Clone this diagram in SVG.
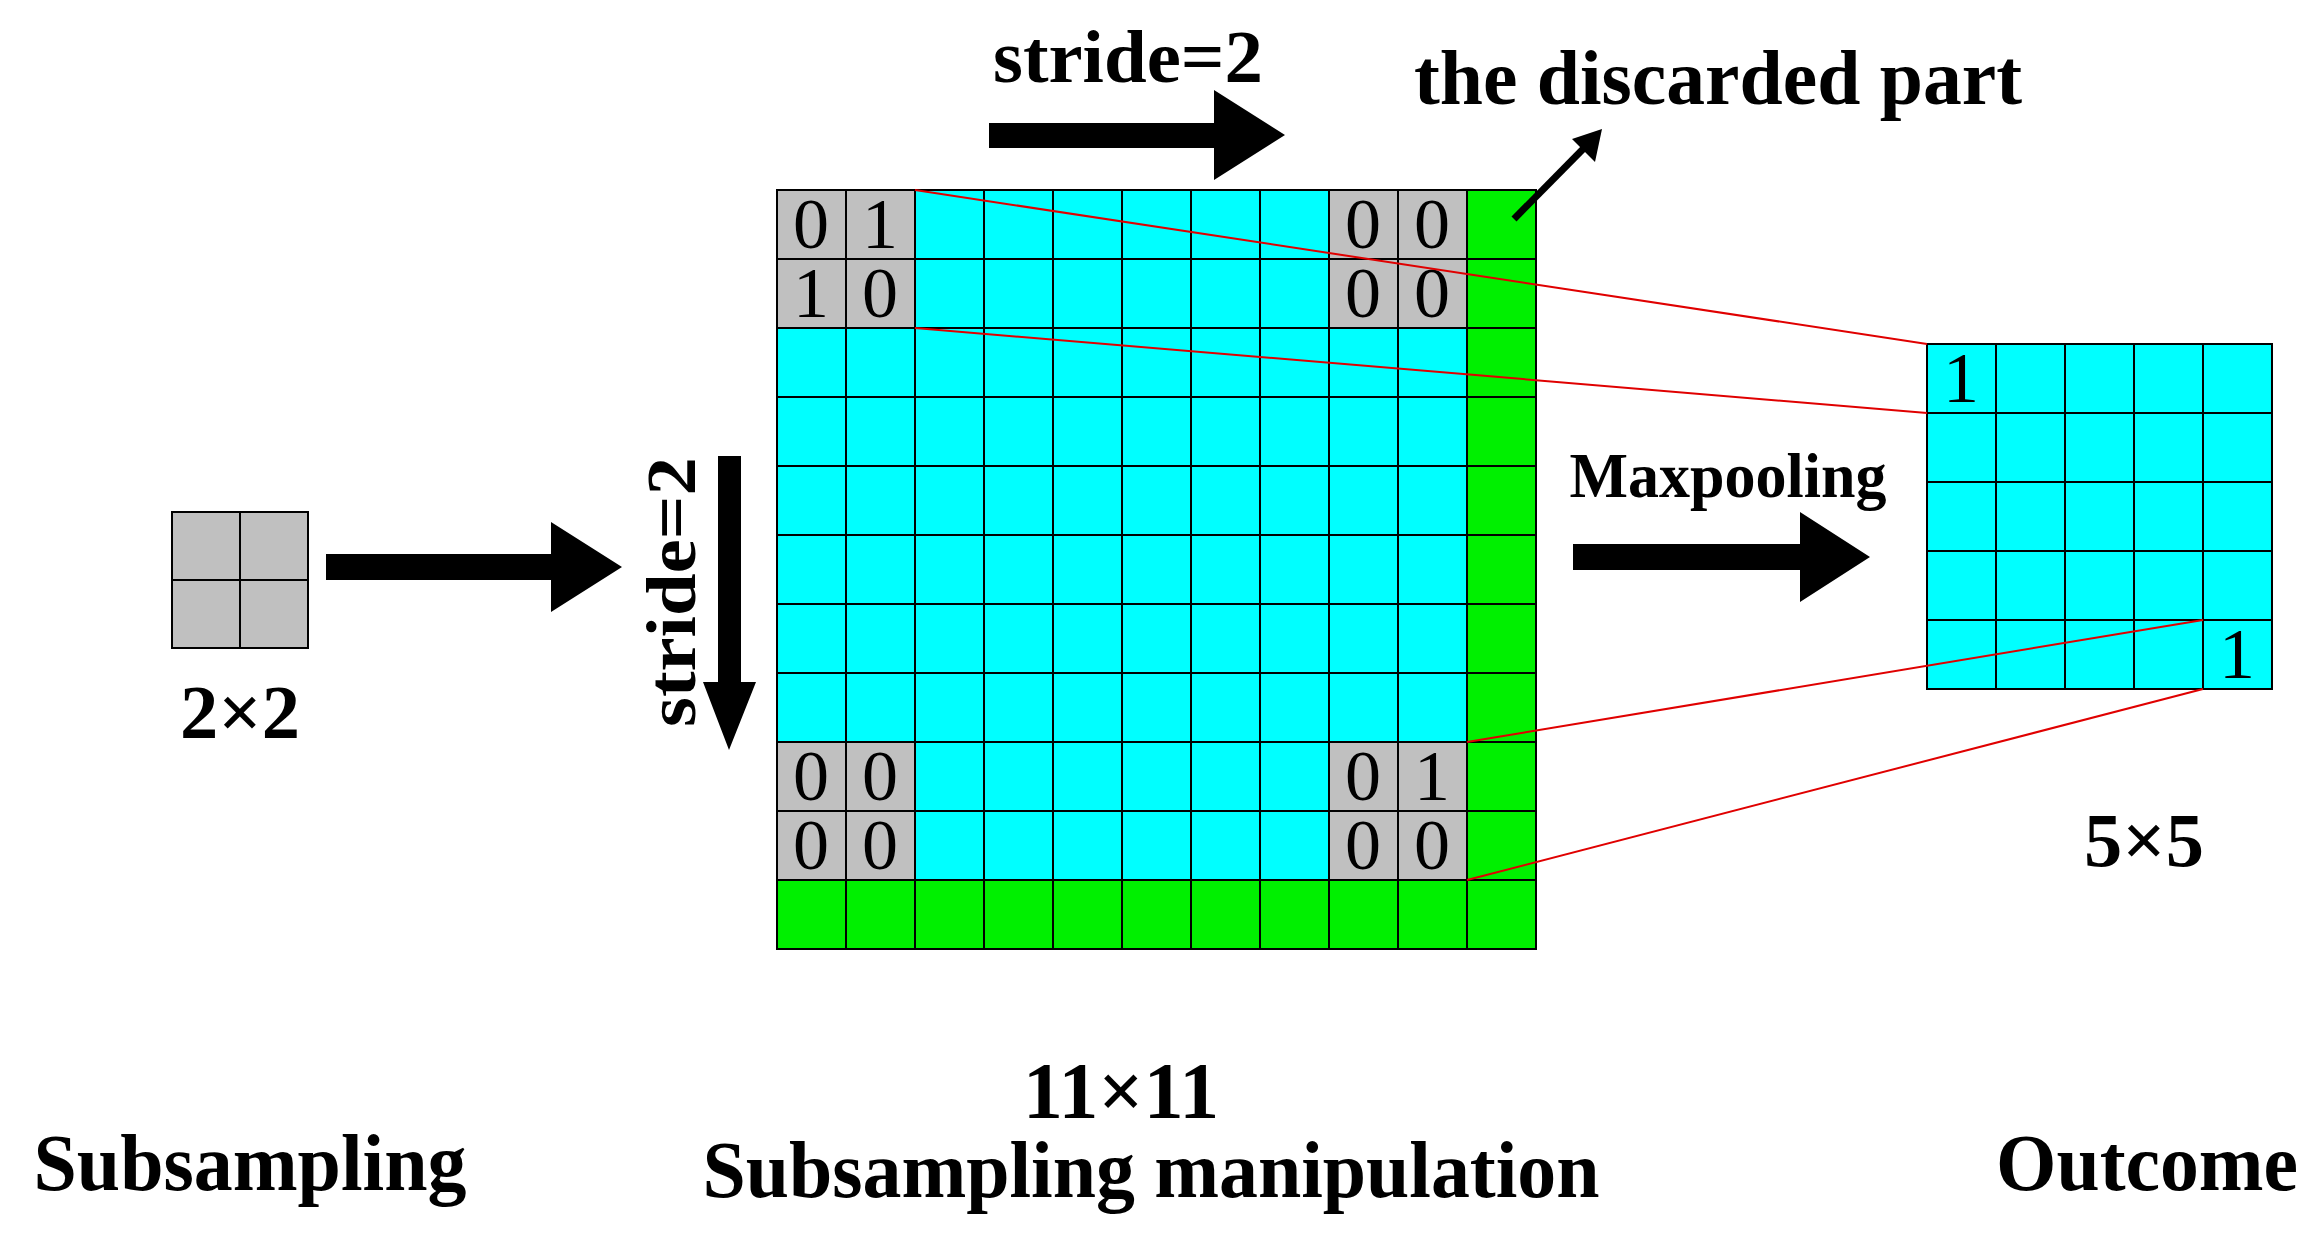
<svg xmlns="http://www.w3.org/2000/svg" width="2310" height="1238" viewBox="0 0 2310 1238">
<style>
.d{font-family:"Liberation Serif",serif;font-size:72px;text-anchor:middle}
.t{font-family:"Liberation Serif",serif;font-weight:bold;text-anchor:middle}
.r{stroke:#E00000;stroke-width:2;fill:none}
</style>
<defs>
<pattern id="p" x="777" y="190" width="69" height="69" patternUnits="userSpaceOnUse"><rect width="69" height="69" fill="none" stroke="#000" stroke-width="2"/></pattern>
</defs>
<rect width="2310" height="1238" fill="#fff"/>
<g id="kernel">
<rect x="172" y="512" width="136" height="136" fill="#C0C0C0" stroke="#000" stroke-width="2"/>
<line x1="240" y1="512" x2="240" y2="648" stroke="#000" stroke-width="2"/>
<line x1="172" y1="580" x2="308" y2="580" stroke="#000" stroke-width="2"/>
</g>
<g id="grid11">
<rect x="777" y="190" width="759" height="759" fill="#00FFFF"/>
<rect x="1467" y="190" width="69" height="759" fill="#00F000"/>
<rect x="777" y="880" width="759" height="69" fill="#00F000"/>
<rect x="777" y="190" width="138" height="138" fill="#C0C0C0"/>
<rect x="1329" y="190" width="138" height="138" fill="#C0C0C0"/>
<rect x="777" y="742" width="138" height="138" fill="#C0C0C0"/>
<rect x="1329" y="742" width="138" height="138" fill="#C0C0C0"/>
<rect x="777" y="190" width="759" height="759" fill="url(#p)" stroke="#000" stroke-width="2"/>
<g class="d">
<text x="811" y="248">0</text><text x="880" y="248">1</text><text x="811" y="317">1</text><text x="880" y="317">0</text>
<text x="1363" y="248">0</text><text x="1432" y="248">0</text><text x="1363" y="317">0</text><text x="1432" y="317">0</text>
<text x="811" y="800">0</text><text x="880" y="800">0</text><text x="811" y="869">0</text><text x="880" y="869">0</text>
<text x="1363" y="800">0</text><text x="1432" y="800">1</text><text x="1363" y="869">0</text><text x="1432" y="869">0</text>
</g>
</g>
<g id="grid5">
<rect x="1927" y="344" width="345" height="345" fill="#00FFFF"/>
<g stroke="#000" stroke-width="2">
<rect x="1927" y="344" width="345" height="345" fill="none"/>
<line x1="1996" y1="344" x2="1996" y2="689"/><line x1="2065" y1="344" x2="2065" y2="689"/><line x1="2134" y1="344" x2="2134" y2="689"/><line x1="2203" y1="344" x2="2203" y2="689"/>
<line x1="1927" y1="413" x2="2272" y2="413"/><line x1="1927" y1="482" x2="2272" y2="482"/><line x1="1927" y1="551" x2="2272" y2="551"/><line x1="1927" y1="620" x2="2272" y2="620"/>
</g>
<text class="d" x="1961" y="402">1</text>
<text class="d" x="2237" y="678">1</text>
</g>
<g id="connectors">
<line class="r" x1="915" y1="190" x2="1927" y2="344"/>
<line class="r" x1="915" y1="328" x2="1927" y2="413"/>
<line class="r" x1="1467" y1="742" x2="2203" y2="620"/>
<line class="r" x1="1467" y1="880" x2="2203" y2="689"/>
<polygon points="989,123 1214,123 1214,90 1285,135 1214,180 1214,148 989,148" fill="#000"/>
<polygon points="326,554 551,554 551,522 622,567 551,612 551,580 326,580" fill="#000"/>
<polygon points="1573,544 1800,544 1800,512 1870,557 1800,602 1800,570 1573,570" fill="#000"/>
<polygon points="718,456 741,456 741,682 756,682 729,750 703,682 718,682" fill="#000"/>
<line x1="1514" y1="219" x2="1588" y2="144" stroke="#000" stroke-width="7"/>
<polygon points="1602,129 1595,162 1572,139" fill="#000"/>
</g>
<g id="labels" class="t">
<text x="1128" y="82" font-size="74" textLength="270" lengthAdjust="spacingAndGlyphs">stride=2</text>
<text x="1718" y="104" font-size="78" textLength="608" lengthAdjust="spacingAndGlyphs">the discarded part</text>
<text x="240" y="738" font-size="76" textLength="120" lengthAdjust="spacingAndGlyphs">2×2</text>
<text x="1728" y="497" font-size="64" textLength="317" lengthAdjust="spacingAndGlyphs">Maxpooling</text>
<text x="0" y="0" font-size="70" textLength="270" lengthAdjust="spacingAndGlyphs" transform="translate(695,592) rotate(-90)">stride=2</text>
<text x="2144" y="866" font-size="76" textLength="120" lengthAdjust="spacingAndGlyphs">5×5</text>
<text x="1121" y="1118" font-size="80" textLength="196" lengthAdjust="spacingAndGlyphs">11×11</text>
<text x="1151" y="1197" font-size="80" textLength="897" lengthAdjust="spacingAndGlyphs">Subsampling manipulation</text>
<text x="250" y="1190" font-size="80" textLength="433" lengthAdjust="spacingAndGlyphs">Subsampling</text>
<text x="2147" y="1190" font-size="80" textLength="302" lengthAdjust="spacingAndGlyphs">Outcome</text>
</g>
</svg>
